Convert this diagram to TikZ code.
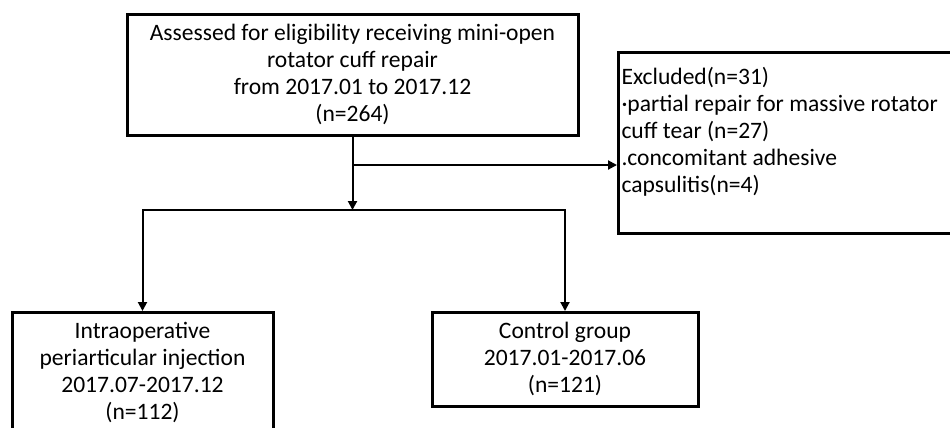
\documentclass[tikz,border=0pt]{standalone}
\usepackage{fontspec}
\setmainfont{Carlito}
\usetikzlibrary{arrows.meta}

\begin{document}
\begin{tikzpicture}[
    box/.style={draw, line width=0.06cm, inner xsep=0.1cm, inner ysep=0.2cm, align=center, font=\fontsize{13.4pt}{15.4pt}\selectfont},
    link/.style={line width=0.04cm, -{Triangle[length=0.18cm, width=0.18cm]}}
]
    \useasboundingbox (0,0) rectangle (19,-8.54);

    % 入组
    \node[box, minimum width=9.02cm, minimum height=2.42cm] (assess) at (7.05,-1.49) {Assessed for eligibility receiving mini-open\\ rotator cuff repair\\ from 2017.01 to 2017.12\\ (n=264)};

    % 排除
    \node[box, anchor=north west, inner xsep=0.06cm, inner ysep=0.3cm, align=left] (excl) at (12.34,-1.02) {\parbox[t][3.02cm][t]{7.2cm}{\raggedright Excluded(n=31)\\ ·partial repair for massive rotator\\ cuff tear (n=27)\\ .concomitant adhesive\\ capsulitis(n=4)}};

    % 分组
    \node[box, anchor=north, minimum width=5.22cm] (inj) at (2.85,-6.22) {Intraoperative\\ periarticular injection\\ 2017.07-2017.12\\ (n=112)};
    \node[box, anchor=north, minimum width=5.32cm] (ctrl) at (11.30,-6.22) {Control group\\ 2017.01-2017.06\\ (n=121)};

    % 连线
    \coordinate (split) at (assess.south |- 0,-3.30);
    \coordinate (junc) at (assess.south |- 0,-4.20);
    \draw[link] (assess.south) -- (junc);
    \draw[link] (split) -- (split -| excl.west);
    \draw[link, {Triangle[length=0.18cm, width=0.18cm]}-{Triangle[length=0.18cm, width=0.18cm]}] (inj.north) |- (junc) -| (ctrl.north);
\end{tikzpicture}
\end{document}
